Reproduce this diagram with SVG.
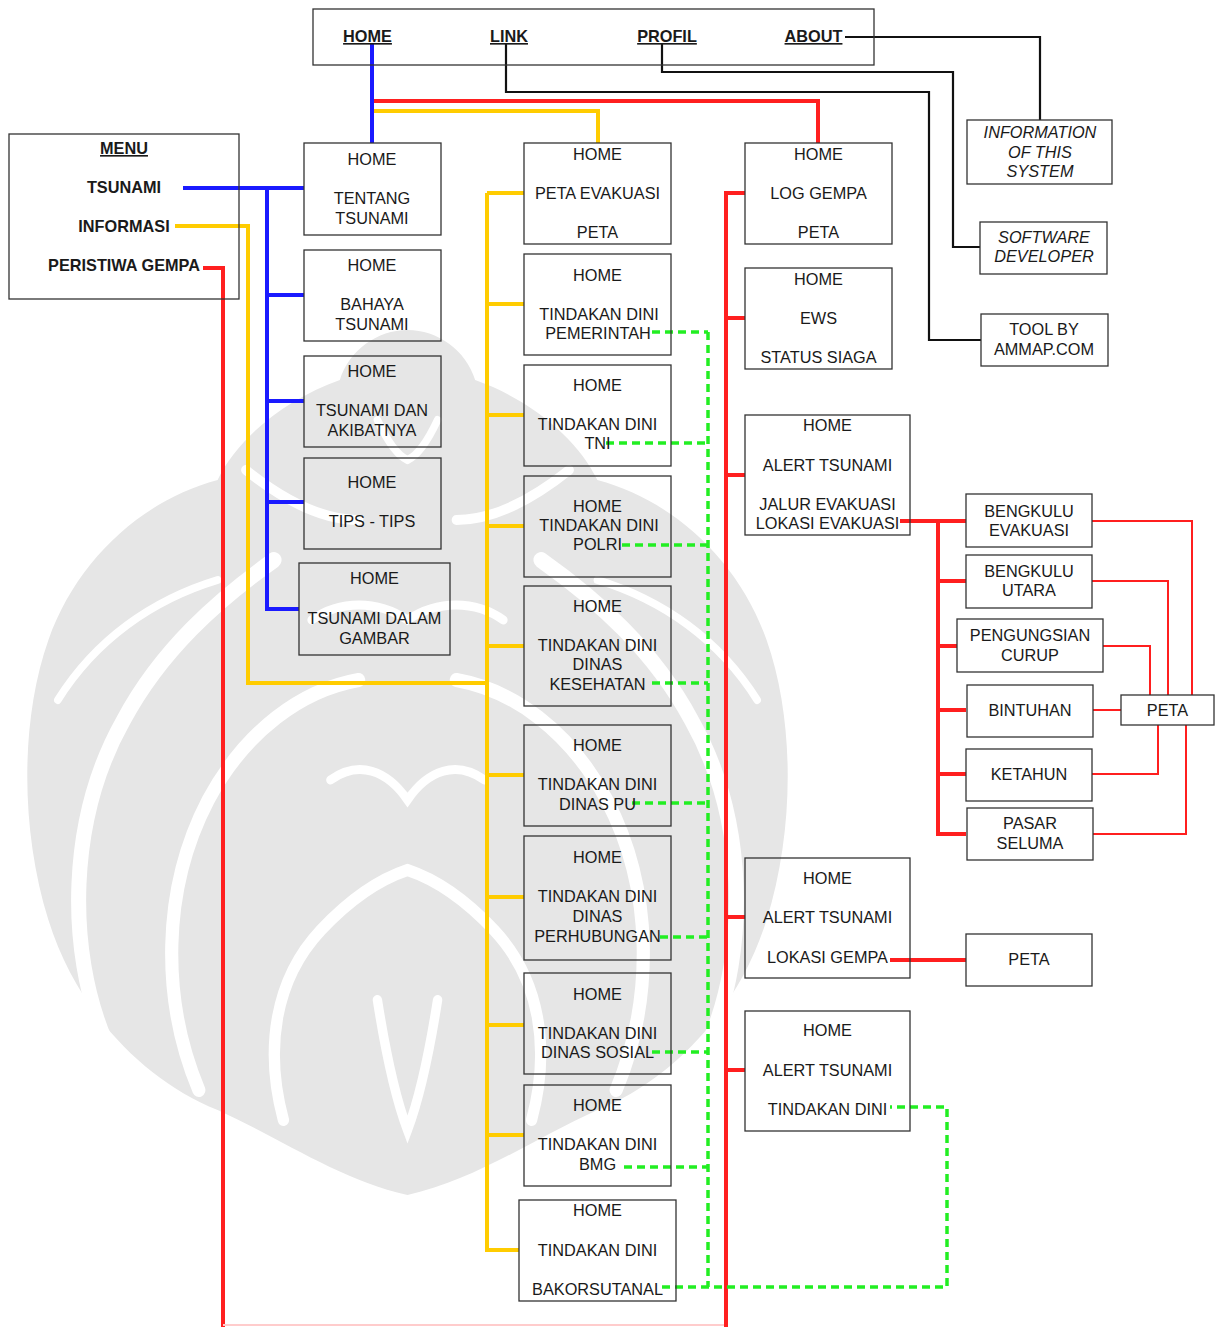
<svg xmlns="http://www.w3.org/2000/svg" width="1223" height="1327" viewBox="0 0 1223 1327">
<style>
  text { font-family: "Liberation Sans", Arial, sans-serif; font-size: 16.3px; fill: #1a1a1a; text-anchor: middle; }
  .b { font-weight: bold; }
  .u { text-decoration: underline; }
  .i { font-style: italic; }
  .box { fill: none; stroke: #333; stroke-width: 1.3; }
  .bl { fill: none; stroke: #1a1aff; stroke-width: 4; }
  .rd { fill: none; stroke: #ff1f1f; stroke-width: 4; }
  .rt { fill: none; stroke: #ff1f1f; stroke-width: 2; }
  .yl { fill: none; stroke: #ffcc00; stroke-width: 4; }
  .bk { fill: none; stroke: #111; stroke-width: 2.2; }
  .gr { fill: none; stroke: #22ee22; stroke-width: 3.5; stroke-dasharray: 8 5; }
  .wm { fill: #e6e6e6; }
  .ws { fill: none; stroke: #fff; stroke-linecap: round; }
</style>
<rect width="1223" height="1327" fill="#fff"/>
<g id="watermark" transform="translate(407.5,0) scale(0.94,1) translate(-432,0)">
  <path class="wm" d="M432 330 C400 330 370 350 360 380 C300 400 250 440 230 480 C150 500 80 560 50 640 C20 720 20 830 50 920 C80 1010 150 1080 230 1110 C300 1140 360 1180 432 1195 C504 1180 564 1140 634 1110 C714 1080 784 1010 814 920 C844 830 844 720 814 640 C784 560 714 500 634 480 C614 440 564 400 504 380 C494 350 464 330 432 330 Z"/>
  <path class="ws" stroke-width="16" d="M110 1040 C70 950 70 820 130 720 C170 650 230 600 290 560"/>
  <path class="ws" stroke-width="16" d="M754 1040 C794 950 794 820 734 720 C694 650 634 600 574 560"/>
  <path class="ws" stroke-width="14" d="M210 1090 C170 1000 170 890 220 800 C260 730 320 690 380 680"/>
  <path class="ws" stroke-width="14" d="M654 1090 C694 1000 694 890 644 800 C604 730 544 690 484 680"/>
  <path class="ws" stroke-width="12" d="M300 1120 C280 1050 290 980 340 930 C370 900 400 880 432 870 C464 880 494 900 524 930 C574 980 584 1050 564 1120"/>
  <path class="ws" stroke-width="10" d="M260 470 C300 500 340 520 380 520 M604 470 C564 500 524 520 484 520"/>
  <path class="ws" stroke-width="10" d="M400 1000 C410 1060 420 1100 432 1130 C444 1100 454 1060 464 1000"/>
  <path class="ws" stroke-width="8" d="M60 700 C100 640 160 600 230 580 M804 700 C764 640 704 600 634 580"/>
  <path class="ws" stroke-width="9" d="M330 620 C360 600 400 600 432 620 C464 600 504 600 534 620 M350 780 C380 760 410 770 432 800 C454 770 484 760 514 780"/>
  <path class="ws" stroke-width="8" d="M400 420 C410 440 420 455 432 460 C444 455 454 440 464 420"/>
</g>
<g id="connectors">
  <path class="yl" d="M372 111 H598 V143"/>
  <path class="yl" d="M175 226 H248 V683 H487"/>
  <path class="yl" d="M487 193 V1250 H519"/>
  <path class="yl" d="M487 193 H524 M487 304 H524 M487 415 H524 M487 526 H524 M487 646 H524 M487 775 H524 M487 897 H524 M487 1025 H524 M487 1135 H524"/>
  <path class="rd" d="M372 101 H818 V143"/>
  <path class="bl" d="M372 44 V143"/>
  <path class="bl" d="M183 188 H304"/>
  <path class="bl" d="M267 188 V609 H299 M267 295 H304 M267 401 H304 M267 502 H304"/>
  <path class="rd" d="M203 268 H223 V1327"/>
  <path fill="none" stroke="#ffcccc" stroke-width="2" d="M223 1325 H726"/>
  <path class="rd" d="M726 1327 V193 H745 M726 318 H745 M726 475 H745 M726 917 H745 M726 1070 H745"/>
  <path class="rd" d="M900 521 H966"/>
  <path class="rd" d="M938 521 V834 H966 M938 581 H966 M938 646 H957 M938 710 H966 M938 774 H966"/>
  <path class="rd" d="M890 960 H966"/>
  <path class="rt" d="M1092 521 H1192 V695 M1092 581 H1168 V695 M1103 646 H1150 V695 M1093 710 H1121 M1092 774 H1158 V725 M1093 834 H1186 V725"/>
  <path class="bk" d="M845 37 H1040 V120"/>
  <path class="bk" d="M662 44 V72 H953 V247 H980"/>
  <path class="bk" d="M506 44 V92 H929 V340 H981"/>
  <path class="gr" d="M708 332 V1287"/>
  <path class="gr" d="M652 332 H708 M606 443 H708 M622 545 H708 M652 683 H708 M632 803 H708 M660 937 H708 M652 1052 H708 M624 1167 H708"/>
  <path class="gr" d="M662 1287 H947 V1107 H890"/>
</g>
<g id="nav">
  <rect class="box" x="313" y="9" width="561" height="56"/>
  <text class="b u" x="367.5" y="42">HOME</text>
  <text class="b u" x="509" y="42">LINK</text>
  <text class="b u" x="667" y="42">PROFIL</text>
  <text class="b u" x="813.5" y="42">ABOUT</text>
</g>
<g id="menu">
  <rect class="box" x="9" y="134" width="230" height="165"/>
  <text class="b u" x="124" y="154">MENU</text>
  <text class="b" x="124" y="193">TSUNAMI</text>
  <text class="b" x="124" y="232">INFORMASI</text>
  <text class="b" x="124" y="271">PERISTIWA GEMPA</text>
</g>
<g id="info">
  <rect class="box" x="967" y="120" width="145" height="64"/>
  <text class="i" x="1040" y="138">INFORMATION</text>
  <text class="i" x="1040" y="158">OF THIS</text>
  <text class="i" x="1040" y="177">SYSTEM</text>
</g>
<g id="developer">
  <rect class="box" x="980" y="222" width="127" height="52"/>
  <text class="i" x="1044" y="243">SOFTWARE</text>
  <text class="i" x="1044" y="262">DEVELOPER</text>
</g>
<g id="tool">
  <rect class="box" x="981" y="314" width="127" height="52"/>
  <text x="1044" y="335">TOOL BY</text>
  <text x="1044" y="355">AMMAP.COM</text>
</g>
<g id="tentang">
  <rect class="box" x="304" y="143" width="137" height="92"/>
  <text x="372" y="165">HOME</text>
  <text x="372" y="204">TENTANG</text>
  <text x="372" y="224">TSUNAMI</text>
</g>
<g id="bahaya">
  <rect class="box" x="304" y="250" width="137" height="91"/>
  <text x="372" y="271">HOME</text>
  <text x="372" y="310">BAHAYA</text>
  <text x="372" y="330">TSUNAMI</text>
</g>
<g id="akibat">
  <rect class="box" x="304" y="356" width="137" height="91"/>
  <text x="372" y="377">HOME</text>
  <text x="372" y="416">TSUNAMI DAN</text>
  <text x="372" y="436">AKIBATNYA</text>
</g>
<g id="tips">
  <rect class="box" x="304" y="458" width="137" height="91"/>
  <text x="372" y="488">HOME</text>
  <text x="372" y="527">TIPS - TIPS</text>
</g>
<g id="gambar">
  <rect class="box" x="299" y="563" width="151" height="92"/>
  <text x="374.5" y="584">HOME</text>
  <text x="374.5" y="624">TSUNAMI DALAM</text>
  <text x="374.5" y="644">GAMBAR</text>
</g>
<g id="petaevakuasi">
  <rect class="box" x="524" y="143" width="147" height="101"/>
  <text x="597.5" y="160">HOME</text>
  <text x="597.5" y="199">PETA EVAKUASI</text>
  <text x="597.5" y="238">PETA</text>
</g>
<g id="pemerintah">
  <rect class="box" x="524" y="254" width="147" height="101"/>
  <text x="597.5" y="281">HOME</text>
  <text x="599" y="320">TINDAKAN DINI</text>
  <text x="598" y="339">PEMERINTAH</text>
</g>
<g id="tni">
  <rect class="box" x="524" y="365" width="147" height="101"/>
  <text x="597.5" y="391">HOME</text>
  <text x="597.5" y="430">TINDAKAN DINI</text>
  <text x="597.5" y="449">TNI</text>
</g>
<g id="polri">
  <rect class="box" x="524" y="476" width="147" height="101"/>
  <text x="597.5" y="512">HOME</text>
  <text x="599" y="531">TINDAKAN DINI</text>
  <text x="597.5" y="550">POLRI</text>
</g>
<g id="kesehatan">
  <rect class="box" x="524" y="586" width="147" height="120"/>
  <text x="597.5" y="612">HOME</text>
  <text x="597.5" y="651">TINDAKAN DINI</text>
  <text x="597.5" y="670">DINAS</text>
  <text x="597.5" y="690">KESEHATAN</text>
</g>
<g id="dinaspu">
  <rect class="box" x="524" y="725" width="147" height="101"/>
  <text x="597.5" y="751">HOME</text>
  <text x="597.5" y="790">TINDAKAN DINI</text>
  <text x="597.5" y="810">DINAS PU</text>
</g>
<g id="perhubungan">
  <rect class="box" x="524" y="836" width="147" height="124"/>
  <text x="597.5" y="863">HOME</text>
  <text x="597.5" y="902">TINDAKAN DINI</text>
  <text x="597.5" y="922">DINAS</text>
  <text x="597.5" y="942">PERHUBUNGAN</text>
</g>
<g id="sosial">
  <rect class="box" x="524" y="973" width="147" height="101"/>
  <text x="597.5" y="1000">HOME</text>
  <text x="597.5" y="1039">TINDAKAN DINI</text>
  <text x="597.5" y="1058">DINAS SOSIAL</text>
</g>
<g id="bmg">
  <rect class="box" x="524" y="1085" width="147" height="101"/>
  <text x="597.5" y="1111">HOME</text>
  <text x="597.5" y="1150">TINDAKAN DINI</text>
  <text x="597.5" y="1170">BMG</text>
</g>
<g id="bakorsutanal">
  <rect class="box" x="519" y="1200" width="157" height="101"/>
  <text x="597.5" y="1216">HOME</text>
  <text x="597.5" y="1256">TINDAKAN DINI</text>
  <text x="597.5" y="1295">BAKORSUTANAL</text>
</g>
<g id="loggempa">
  <rect class="box" x="745" y="143" width="147" height="101"/>
  <text x="818.5" y="160">HOME</text>
  <text x="818.5" y="199">LOG GEMPA</text>
  <text x="818.5" y="238">PETA</text>
</g>
<g id="ews">
  <rect class="box" x="745" y="268" width="147" height="101"/>
  <text x="818.5" y="285">HOME</text>
  <text x="818.5" y="324">EWS</text>
  <text x="818.5" y="363">STATUS SIAGA</text>
</g>
<g id="alert1">
  <rect class="box" x="745" y="415" width="165" height="120"/>
  <text x="827.5" y="431">HOME</text>
  <text x="827.5" y="471">ALERT TSUNAMI</text>
  <text x="827.5" y="510">JALUR EVAKUASI</text>
  <text x="827.5" y="529">LOKASI EVAKUASI</text>
</g>
<g id="alert2">
  <rect class="box" x="745" y="858" width="165" height="120"/>
  <text x="827.5" y="884">HOME</text>
  <text x="827.5" y="923">ALERT TSUNAMI</text>
  <text x="827.5" y="963">LOKASI GEMPA</text>
</g>
<g id="alert3">
  <rect class="box" x="745" y="1011" width="165" height="120"/>
  <text x="827.5" y="1036">HOME</text>
  <text x="827.5" y="1076">ALERT TSUNAMI</text>
  <text x="827.5" y="1115">TINDAKAN DINI</text>
</g>
<g id="bengkuluevakuasi">
  <rect class="box" x="966" y="494" width="126" height="53"/>
  <text x="1029" y="517">BENGKULU</text>
  <text x="1029" y="536">EVAKUASI</text>
</g>
<g id="bengkuluutara">
  <rect class="box" x="966" y="555" width="126" height="53"/>
  <text x="1029" y="577">BENGKULU</text>
  <text x="1029" y="596">UTARA</text>
</g>
<g id="curup">
  <rect class="box" x="957" y="619" width="146" height="53"/>
  <text x="1030" y="641">PENGUNGSIAN</text>
  <text x="1030" y="661">CURUP</text>
</g>
<g id="bintuhan">
  <rect class="box" x="967" y="685" width="126" height="52"/>
  <text x="1030" y="716">BINTUHAN</text>
</g>
<g id="ketahun">
  <rect class="box" x="966" y="749" width="126" height="52"/>
  <text x="1029" y="780">KETAHUN</text>
</g>
<g id="seluma">
  <rect class="box" x="967" y="808" width="126" height="52"/>
  <text x="1030" y="829">PASAR</text>
  <text x="1030" y="849">SELUMA</text>
</g>
<g id="peta1">
  <rect class="box" x="1121" y="695" width="93" height="30"/>
  <text x="1167.5" y="716">PETA</text>
</g>
<g id="peta2">
  <rect class="box" x="966" y="934" width="126" height="52"/>
  <text x="1029" y="965">PETA</text>
</g>
</svg>
